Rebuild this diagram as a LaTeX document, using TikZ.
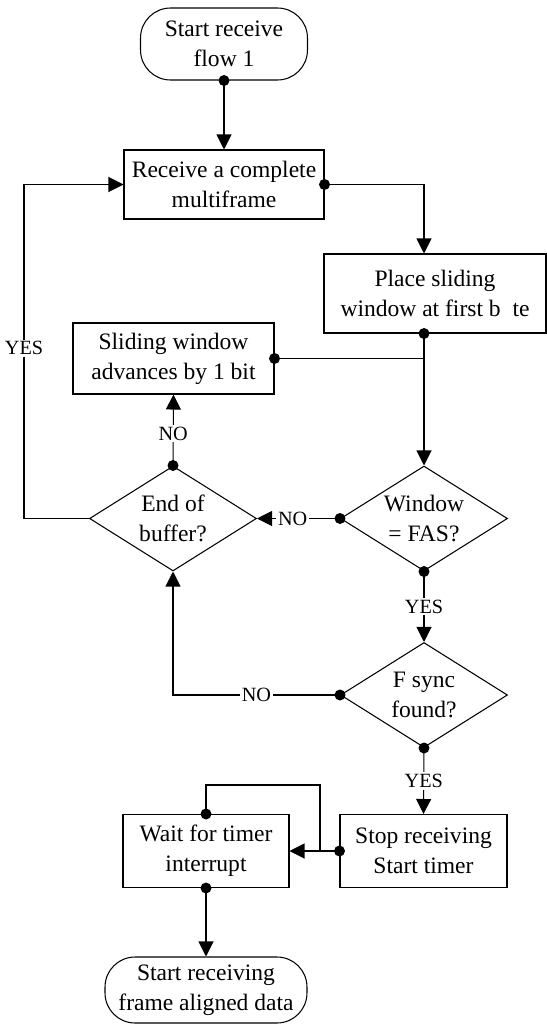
\documentclass[tikz,border=0pt]{standalone}
\usepackage{fontspec}
\setmainfont{Liberation Serif}
\usepackage{tikz}
\usetikzlibrary{calc,shapes}
\usetikzlibrary{positioning, fit, shapes.geometric}
\usetikzlibrary{arrows.meta}

\begin{document}
\begin{tikzpicture}[x=0.02cm,y=-0.02cm,line width=0.6pt,
  font=\fontsize{13.4pt}{17pt}\selectfont,
  term/.style={draw,rectangle,rounded corners=0.6cm,minimum width=3.34cm,minimum height=1.44cm,align=center,inner sep=2pt},
  proc/.style={draw,rectangle,align=center,inner sep=2pt},
  test/.style={draw,diamond,aspect=1.6,align=center,inner sep=0pt,minimum width=3.34cm,minimum height=2.1cm},
  arr/.style={-{Triangle[length=0.3cm,width=0.3cm]}},
  lbl/.style={fill=white,inner sep=1pt,font=\fontsize{11.5pt}{13pt}\selectfont}]
\useasboundingbox (0,0) rectangle (547,1024);

\node (start) at (224,44) [term] {Start receive\\flow 1};
\node (recv) at (224,184.5) [proc,minimum width=4cm,minimum height=1.38cm] {Receive a complete\\multiframe};
\node (place) at (435,293.5) [proc,minimum width=4.44cm,minimum height=1.58cm] {Place sliding\\window at first b\ \ te};
\node (slide) at (173.5,358.5) [proc,minimum width=4.02cm,minimum height=1.42cm] {Sliding window\\advances by 1 bit};

\node (buffer) at (173,518.5) [test] {End of\\buffer?};
\node (window) at (424,518.5) [test] {Window\\= FAS?};
\node (fsync) at (424,695) [test] {F sync\\found?};

\node (stop) at (423.5,851) [proc,minimum width=3.34cm,minimum height=1.46cm] {Stop receiving\\Start timer};
\node (wait) at (206,851) [proc,minimum width=3.32cm,minimum height=1.46cm] {Wait for timer\\interrupt};
\node (finish) at (206,990) [term,minimum width=4.04cm,minimum height=1.32cm] {Start receiving\\frame aligned data};

\coordinate (lbus) at (24,518.5);
\coordinate (loop) at (320,785);

\draw[arr] (start.south) -- (recv.north);
\draw[arr] (recv.east) -| (window.north |- place.north);
\draw[arr] (window.north |- place.south) -- (window.north);
\draw (slide.east) -- (slide.east -| window.north);
\draw[arr] (window.west) -- node[lbl,pos=0.57]{NO} (buffer.east);
\draw[arr] (buffer.north) -- node[lbl,pos=0.45]{NO} (slide.south);
\draw[arr] (buffer.west) -- (lbus) |- node[lbl,pos=0.255]{YES} (recv.west);
\draw[arr] (window.south) -- node[lbl]{YES} (fsync.north);
\draw[arr] (fsync.west) -| node[lbl,pos=0.25]{NO} (buffer.south);
\draw[arr] (fsync.south) -- node[lbl]{YES} (stop.north);
\draw[arr] (stop.west) -- (wait.east);
\draw (wait.north) |- (loop) -- (loop |- stop.west);
\draw[arr] (wait.south) -- (finish.north);

\foreach \p in {start.south,recv.east,slide.east,window.west,window.south,buffer.north,fsync.west,fsync.south,stop.west,wait.north,wait.south}
  \fill (\p) circle (0.11cm);
\fill (window.north |- place.south) circle (0.11cm);
\end{tikzpicture}
\end{document}
